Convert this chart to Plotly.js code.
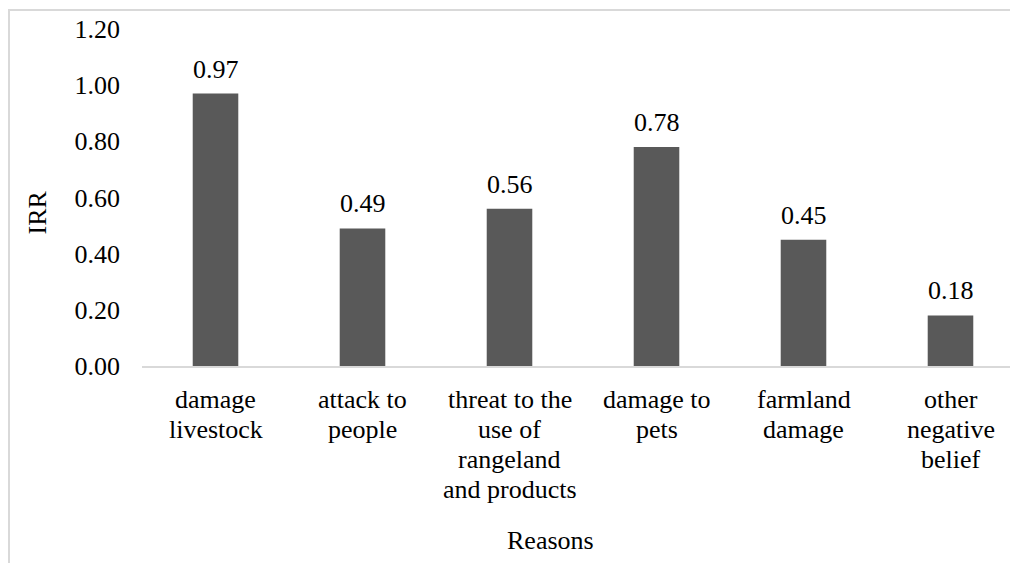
<!DOCTYPE html>
<html>
<head>
<meta charset="utf-8">
<script src="https://cdn.plot.ly/plotly-3.0.1.min.js"></script>
<style>
  html, body { margin: 0; padding: 0; width: 1010px; height: 563px; overflow: hidden; background: #fff; }
  #frame { position: absolute; left: 8px; top: 9px; width: 1100px; height: 700px;
           border-left: 2px solid #d9d9d9; border-top: 2px solid #d9d9d9; box-sizing: border-box; }
  #chart { position: absolute; left: 0; top: 0; width: 1040px; height: 563px; }
</style>
</head>
<body>
<div id="frame"></div>
<div id="chart"></div>
<script>
// Data
const categoryLabels = [
  "damage\nlivestock",
  "attack to\npeople",
  "threat to the\nuse of\nrangeland\nand products",
  "damage to\npets",
  "farmland\ndamage",
  "other\nnegative\nbelief"
];
const irrValues = [0.97, 0.49, 0.56, 0.78, 0.45, 0.18];
const yTickVals = [0, 0.2, 0.4, 0.6, 0.8, 1.0, 1.2];
const xTitle = "Reasons";
const yTitle = "IRR";

const FONT = "Liberation Serif";
const FS = 26;
const LINE = 30;

const cats = categoryLabels.map(s => s.replace(/\n/g, " "));

const annotations = [];
// value labels
irrValues.forEach((v, i) => {
  annotations.push({
    x: cats[i], y: v, xref: "x", yref: "y",
    text: v.toFixed(2), showarrow: false,
    xanchor: "center", yanchor: "bottom", yshift: 8,
    font: {family: FONT, size: FS, color: "#000"}
  });
});
// category labels, one annotation per line
categoryLabels.forEach((lab, i) => {
  lab.split("\n").forEach((line, j) => {
    annotations.push({
      x: cats[i], y: 0, xref: "x", yref: "y",
      text: line, showarrow: false,
      xanchor: "center", yanchor: "top", yshift: -17 - j * LINE,
      font: {family: FONT, size: FS, color: "#000"}
    });
  });
});
// axis titles
annotations.push({
  x: 0.4626, y: 0, xref: "paper", yref: "paper",
  text: xTitle, showarrow: false, xanchor: "center", yanchor: "top", yshift: -158,
  font: {family: FONT, size: FS, color: "#000"}
});
annotations.push({
  x: -0.1196, y: 0.454, xref: "paper", yref: "paper",
  text: yTitle, showarrow: false, textangle: -90, xanchor: "center", yanchor: "middle",
  font: {family: FONT, size: FS, color: "#000"}
});

const trace = {
  type: "bar",
  x: cats,
  y: irrValues,
  marker: {color: "#595959"},
  hoverinfo: "x+y"
};

const layout = {
  width: 1040, height: 563,
  margin: {l: 142, r: 16, t: 29, b: 197},
  paper_bgcolor: "rgba(0,0,0,0)",
  plot_bgcolor: "rgba(0,0,0,0)",
  bargap: 0.69,
  showlegend: false,
  font: {family: FONT, size: FS, color: "#000"},
  xaxis: {
    type: "category",
    showticklabels: false,
    ticks: "",
    showgrid: false,
    zeroline: false,
    showline: true,
    linecolor: "#d9d9d9",
    linewidth: 1.5
  },
  yaxis: {
    range: [0, 1.2],
    tickvals: yTickVals,
    ticktext: yTickVals.map(v => v.toFixed(2)),
    ticks: "",
    showgrid: false,
    zeroline: false,
    showline: false,
    ticklabelstandoff: 21,
    tickfont: {family: FONT, size: FS, color: "#000"}
  },
  annotations: annotations
};

Plotly.newPlot("chart", [trace], layout, {displayModeBar: false, staticPlot: true});
</script>
</body>
</html>
